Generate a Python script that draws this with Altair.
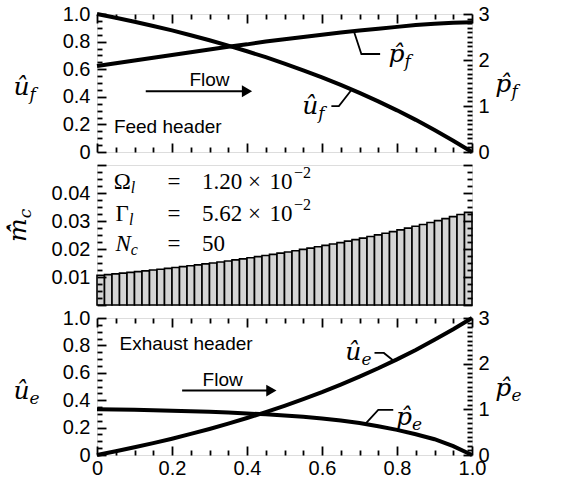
import altair as alt
import pandas as pd

# ---------------- data ----------------
x_pos = [0.0, 0.05, 0.1, 0.15, 0.2, 0.25, 0.3, 0.35, 0.4, 0.45, 0.5,
         0.55, 0.6, 0.65, 0.7, 0.75, 0.8, 0.85, 0.9, 0.95, 1.0]
u_f = [1.0, 0.973, 0.944, 0.913, 0.881, 0.846, 0.810, 0.771, 0.730, 0.687, 0.641,
       0.592, 0.541, 0.486, 0.428, 0.367, 0.302, 0.233, 0.159, 0.082, 0.0]
p_f = [1.87, 1.93, 1.99, 2.05, 2.11, 2.17, 2.23, 2.29, 2.34, 2.40, 2.45,
       2.50, 2.55, 2.60, 2.64, 2.68, 2.72, 2.76, 2.79, 2.81, 2.82]
u_e = [0.0, 0.027, 0.056, 0.087, 0.119, 0.154, 0.190, 0.229, 0.270, 0.313, 0.359,
       0.408, 0.459, 0.514, 0.572, 0.633, 0.698, 0.767, 0.841, 0.918, 1.0]
p_e = [1.00, 0.995, 0.99, 0.98, 0.97, 0.96, 0.945, 0.93, 0.91, 0.89, 0.865,
       0.835, 0.80, 0.755, 0.70, 0.63, 0.55, 0.455, 0.345, 0.195, 0.0]
m_c = [0.0106, 0.01085, 0.01111, 0.01137, 0.01164, 0.01191, 0.01219, 0.01248, 0.01277, 0.01307,
       0.01338, 0.01369, 0.01401, 0.01434, 0.01468, 0.01502, 0.01537, 0.01573, 0.01610, 0.01648,
       0.01687, 0.01727, 0.01767, 0.01809, 0.01851, 0.01895, 0.01939, 0.01985, 0.02031, 0.02079,
       0.02128, 0.02178, 0.02229, 0.02281, 0.02335, 0.02390, 0.02446, 0.02503, 0.02562, 0.02622,
       0.02684, 0.02747, 0.02811, 0.02877, 0.02945, 0.03014, 0.03085, 0.03157, 0.03231, 0.03307]

x_labels = [0, 0.2, 0.4, 0.6, 0.8, 1.0]
u_labels = [0, 0.2, 0.4, 0.6, 0.8, 1.0]
p_labels = [0, 1, 2, 3]
m_labels = [0.01, 0.02, 0.03, 0.04]

# ---------------- styling ----------------
SANS = "Liberation Sans"
SERIF = "Liberation Serif"
MATHFONT = "DejaVu Serif"
W = 375
H_TOP, H_MID, H_BOT = 138, 140, 137
LW = 4
MATH = 25
SUB = 17

XS = alt.Scale(domain=[0, 1], nice=False, zero=False)
US = alt.Scale(domain=[0, 1], nice=False, zero=False)
PS = alt.Scale(domain=[0, 3], nice=False, zero=False)
MS = alt.Scale(domain=[0, 0.05], nice=False)

x_ticks = [round(i * 0.05, 2) for i in range(21)]
p_ticks = [round(i * 0.1, 1) for i in range(31)]
m_ticks = [round(i * 0.0025, 4) for i in range(21)]

TEST_02 = "abs(datum.value * 5 - round(datum.value * 5)) < 0.001"
TEST_1 = "abs(datum.value - round(datum.value)) < 0.001"
TEST_001 = "abs(datum.value * 100 - round(datum.value * 100)) < 0.001"
DEC_EXPR = "datum.value == 0 ? '0' : format(datum.value, '.1f')"


def lab_axis(orient, values, expr, pad=7):
    return alt.Axis(orient=orient, values=values, labelExpr=expr, ticks=False,
                    domain=False, grid=False, title=None, labelFont=SANS,
                    labelFontSize=20, labelColor="black", labelPadding=pad,
                    labelOverlap=False, labelFlush=False)


def tick_axis(orient, offset, values, test, major=9, minor=5):
    return alt.Axis(orient=orient, offset=offset, values=values, labels=False,
                    domain=False, grid=False, title=None, ticks=True,
                    tickColor="black", tickWidth=1.8,
                    tickSize={"condition": {"test": test, "value": major}, "value": minor},
                    zindex=1)


def texts(rows, ys, size, font=SERIF, style="normal", align="center", dx=0, dy=0, angle=0):
    df = pd.DataFrame(rows, columns=["x", "y", "t"])
    return alt.Chart(df).mark_text(
        font=font, fontSize=size, fontStyle=style, align=align, baseline="middle",
        dx=dx, dy=dy, angle=angle, color="black"
    ).encode(
        x=alt.X("x:Q", scale=XS, axis=None),
        y=alt.Y("y:Q", scale=ys, axis=None),
        text="t:N",
    )


def math_label(rows, ys, size=MATH, sub=SUB, sub_dy=8):
    # rows: (x, y, main, subscript) ; main right-aligned at x, subscript left-aligned
    main = texts([(r[0], r[1], r[2]) for r in rows], ys, size, font=MATHFONT,
                 style="italic", align="right")
    subs = texts([(r[0], r[1], r[3]) for r in rows], ys, sub, font=MATHFONT,
                 style="italic", align="left", dy=sub_dy)
    return [main, subs]


def leaders(rows, ys):
    df = pd.DataFrame(rows, columns=["g", "o", "x", "y"])
    return alt.Chart(df).mark_line(color="black", strokeWidth=1.8).encode(
        x=alt.X("x:Q", scale=XS, axis=None),
        y=alt.Y("y:Q", scale=ys, axis=None),
        detail="g:N", order="o:Q",
    )


def arrow(x0, x1, y, ys):
    df = pd.DataFrame({"x": [x0, x1], "y": [y, y]})
    shaft = alt.Chart(df).mark_line(color="black", strokeWidth=2).encode(
        x=alt.X("x:Q", scale=XS, axis=None), y=alt.Y("y:Q", scale=ys, axis=None))
    head = alt.Chart(pd.DataFrame({"x": [x1], "y": [y]})).mark_point(
        shape="triangle-right", filled=True, size=140, color="black", opacity=1
    ).encode(x=alt.X("x:Q", scale=XS, axis=None), y=alt.Y("y:Q", scale=ys, axis=None))
    return [shaft, head]


def header_panel(u_vals, p_vals, H, extras, bottom_labels=False):
    df = pd.DataFrame({"x": x_pos, "u": u_vals, "p": p_vals})
    l_u = alt.Chart(df).mark_line(color="black", strokeWidth=LW).encode(
        x=alt.X("x:Q", scale=XS, axis=tick_axis("top", -H, x_ticks, TEST_02)),
        y=alt.Y("u:Q", scale=US, axis=lab_axis("left", u_labels, DEC_EXPR)),
    )
    l_u2 = alt.Chart(df).mark_line(opacity=0).encode(
        x=alt.X("x:Q", scale=XS, axis=tick_axis("bottom", -H, x_ticks, TEST_02)),
        y=alt.Y("u:Q", scale=US, axis=tick_axis("right", -W, x_ticks, TEST_02)),
    )
    x_lab = lab_axis("bottom", x_labels, DEC_EXPR, pad=3) if bottom_labels else None
    l_p = alt.Chart(df).mark_line(color="black", strokeWidth=LW).encode(
        x=alt.X("x:Q", scale=XS, axis=x_lab),
        y=alt.Y("p:Q", scale=PS, axis=lab_axis("right", p_labels, "format(datum.value, 'd')", pad=6)),
    )
    l_p2 = alt.Chart(df).mark_line(opacity=0).encode(
        x=alt.X("x:Q", scale=XS, axis=None),
        y=alt.Y("p:Q", scale=PS, axis=tick_axis("left", -W, p_ticks, TEST_1)),
    )
    return alt.layer(l_u, l_u2, l_p, l_p2, *extras).properties(
        width=W, height=H).resolve_scale(x="independent", y="independent")


# ---------------- top panel: feed header ----------------
top_extras = (
    [texts([(0.30, 0.52, "Flow")], US, 19, font=SANS),
     texts([(0.045, 0.18, "Feed header")], US, 19, font=SANS, align="left")]
    + arrow(0.13, 0.40, 0.44, US)
    + math_label([(0.59, 0.33, "\u00fb", "f"), (0.82, 0.71, "p\u0302", "f"),
                  (-0.18, 0.47, "\u00fb", "f"), (1.105, 0.49, "p\u0302", "f")], US)
    + [leaders([(1, 0, 0.625, 0.333), (1, 1, 0.645, 0.333), (1, 2, 0.68, 0.455),
                (2, 0, 0.685, 0.875), (2, 1, 0.705, 0.71), (2, 2, 0.755, 0.71)], US)]
)
top = header_panel(u_f, p_f, H_TOP, top_extras)

# ---------------- middle panel: channel flow rates ----------------
dm = pd.DataFrame({"c": list(range(1, len(m_c) + 1)), "m": m_c})
bar_base = alt.Chart(dm).transform_calculate(
    x0=f"(datum.c - 1) / {len(m_c)}", x1=f"datum.c / {len(m_c)}")
bars = bar_base.mark_rect(fill="#d4d4d4", stroke="black", strokeWidth=1.6).encode(
    x=alt.X("x0:Q", scale=XS, axis=None), x2="x1:Q",
    y=alt.Y("m:Q", scale=MS, axis=lab_axis("left", m_labels, "format(datum.value, '.2f')")),
    y2=alt.datum(0),
)
bars_t1 = bar_base.mark_rect(opacity=0).encode(
    x=alt.X("x0:Q", scale=XS, axis=None), x2="x1:Q",
    y=alt.Y("m:Q", scale=MS, axis=tick_axis("right", -W, m_ticks, TEST_001)),
    y2=alt.datum(0),
)
bars_t2 = bar_base.mark_rect(opacity=0).encode(
    x=alt.X("x0:Q", scale=XS, axis=None), x2="x1:Q",
    y=alt.Y("m:Q", scale=MS, axis=tick_axis("left", -W, m_ticks, TEST_001)),
    y2=alt.datum(0),
)
MT = 23
rows_y = [0.0439, 0.0325, 0.0219]
mid_extras = [
    texts([(0.09, rows_y[0], "Ω"), (0.085, rows_y[1], "Γ")], MS, MT, align="right"),
    texts([(0.09, rows_y[2], "N")], MS, MT, style="italic", align="right"),
    texts([(0.09, rows_y[0], "l"), (0.085, rows_y[1], "l"), (0.09, rows_y[2], "c")],
          MS, 16, style="italic", align="left", dy=6),
    texts([(0.205, y, "=") for y in rows_y], MS, MT),
    texts([(0.28, rows_y[0], "1.20"), (0.28, rows_y[1], "5.62"), (0.28, rows_y[2], "50")],
          MS, MT, align="left"),
    texts([(0.42, rows_y[0], "×"), (0.42, rows_y[1], "×")], MS, MT),
    texts([(0.46, rows_y[0], "10"), (0.46, rows_y[1], "10")], MS, MT, align="left"),
    texts([(0.525, rows_y[0], "−2"), (0.525, rows_y[1], "−2")], MS, 16, align="left", dy=-9),
    texts([(-0.21, 0.031, "m\u0302\u0307")], MS, MATH, font=MATHFONT, style="italic",
          align="right", angle=270),
    texts([(-0.19, 0.031, "c")], MS, SUB, font=MATHFONT, style="italic", align="left", angle=270),
]
mid = alt.layer(bars, bars_t1, bars_t2, *mid_extras).properties(
    width=W, height=H_MID).resolve_scale(x="independent", y="independent")

# ---------------- bottom panel: exhaust header ----------------
bot_extras = (
    [texts([(0.335, 0.55, "Flow")], US, 19, font=SANS),
     texts([(0.06, 0.81, "Exhaust header")], US, 19, font=SANS, align="left")]
    + arrow(0.227, 0.465, 0.47, US)
    + math_label([(0.705, 0.75, "\u00fb", "e"), (0.84, 0.28, "p\u0302", "e"),
                  (-0.18, 0.47, "\u00fb", "e"), (1.105, 0.49, "p\u0302", "e")], US)
    + [leaders([(1, 0, 0.74, 0.745), (1, 1, 0.765, 0.745), (1, 2, 0.79, 0.69),
                (2, 0, 0.79, 0.33), (2, 1, 0.75, 0.33), (2, 2, 0.715, 0.226)], US)]
)
bot = header_panel(u_e, p_e, H_BOT, bot_extras, bottom_labels=True)

chart = alt.vconcat(top, mid, bot, spacing=13, bounds="flush").properties(
    padding={"left": 5, "top": 3, "right": 5, "bottom": 0}
).configure_view(stroke="black", strokeWidth=2).configure(background="white")

chart.save("out.html", embed_options={"renderer": "svg", "actions": False})
